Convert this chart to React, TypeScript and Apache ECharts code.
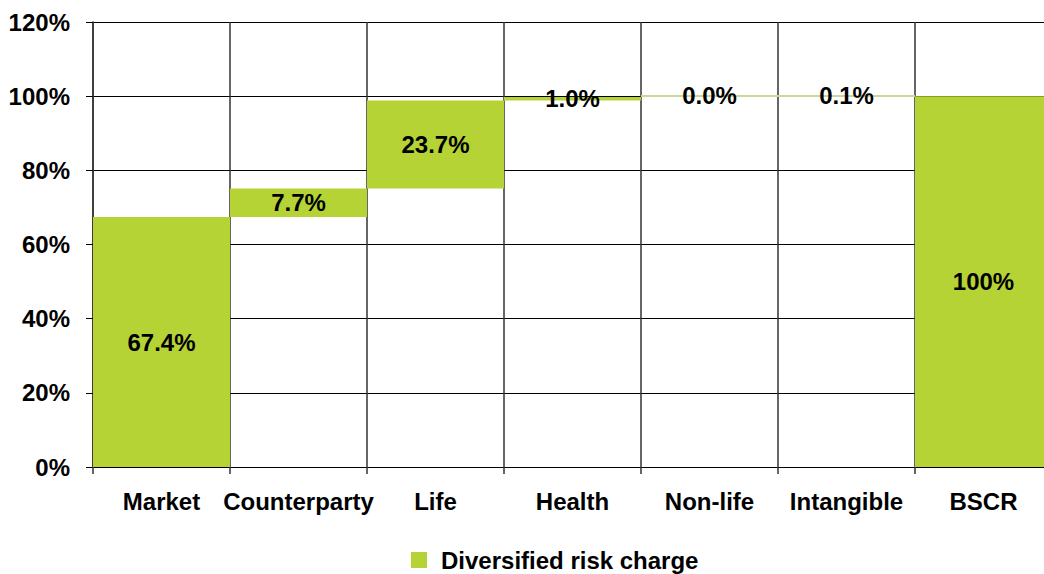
import React, { useEffect, useRef } from "react";
import * as echarts from "echarts";

const categories = ["Market", "Counterparty", "Life", "Health", "Non-life", "Intangible", "BSCR"];
const values = [67.4, 7.7, 23.7, 1.0, 0.0, 0.1, 100];
const valueLabels = ["67.4%", "7.7%", "23.7%", "1.0%", "0.0%", "0.1%", "100%"];
const isTotal = [false, false, false, false, false, false, true];
const yTicks = { min: 0, max: 120, interval: 20 };
const seriesName = "Diversified risk charge";

const GREEN = "#b5d334";
const PALE = "#c9d99a";
const FONT = "'Liberation Sans', Arial, sans-serif";
const FS = 24;

export default function App() {
  const ref = useRef<HTMLDivElement>(null);
  useEffect(() => {
    if (!ref.current) return;
    const chart = echarts.init(ref.current, undefined, { renderer: "svg" });
    const bases: number[] = [];
    let run = 0;
    values.forEach((v, i) => {
      if (isTotal[i]) {
        bases.push(0);
      } else {
        bases.push(Math.round(run * 10) / 10);
        run += v;
      }
    });
    chart.setOption({
      animation: false,
      textStyle: { fontFamily: FONT },
      grid: {
        left: 93,
        top: 22,
        height: 445,
        width: 959,
        containLabel: false,
        outerBoundsMode: "none",
      },
      legend: {
        data: [seriesName],
        left: 411,
        top: 548,
        padding: 0,
        icon: "rect",
        itemWidth: 16,
        itemHeight: 16,
        itemGap: 14,
        textStyle: {
          fontFamily: FONT,
          fontWeight: "bold",
          fontSize: FS,
          color: "#000",
          padding: [0, 0, 0, 9],
        },
      },
      xAxis: {
        type: "category",
        data: categories,
        boundaryGap: true,
        axisLine: { show: true, lineStyle: { color: "#000", width: 1 } },
        axisTick: { show: true, length: 7, interval: 0, lineStyle: { color: "#333", width: 1.5 } },
        splitLine: { show: true, interval: 0, lineStyle: { color: "#333", width: 1.5 } },
        axisLabel: {
          interval: 0,
          margin: 22,
          fontFamily: FONT,
          fontWeight: "bold",
          fontSize: FS,
          color: "#000",
        },
      },
      yAxis: {
        type: "value",
        min: yTicks.min,
        max: yTicks.max,
        interval: yTicks.interval,
        axisLine: { show: true, lineStyle: { color: "#333", width: 1.5 } },
        axisTick: { show: true, length: 7, lineStyle: { color: "#000" } },
        splitLine: { show: true, lineStyle: { color: "#000", width: 1 } },
        axisLabel: {
          formatter: "{value}%",
          margin: 23,
          fontFamily: FONT,
          fontWeight: "bold",
          fontSize: FS,
          color: "#000",
        },
      },
      series: [
        {
          name: "base",
          type: "bar",
          stack: "w",
          data: bases,
          itemStyle: { color: "transparent" },
          barCategoryGap: 0,
          silent: true,
          label: { show: false },
        },
        {
          name: seriesName,
          type: "bar",
          stack: "w",
          barCategoryGap: 0,
          barMinHeight: 2,
          data: values.map((v) => ({
            value: v,
            itemStyle: { color: v < 0.5 ? PALE : GREEN },
          })),
          itemStyle: { color: GREEN },
          label: {
            show: true,
            position: "inside",
            formatter: (p: any) => valueLabels[p.dataIndex],
            fontFamily: FONT,
            fontWeight: "bold",
            fontSize: FS,
            color: "#000",
          },
        },
      ],
    });
    return () => chart.dispose();
  }, []);
  return (
    <div
      ref={ref}
      style={{ position: "fixed", left: 0, top: 0, width: 1044, height: 574, background: "#fff" }}
    />
  );
}
